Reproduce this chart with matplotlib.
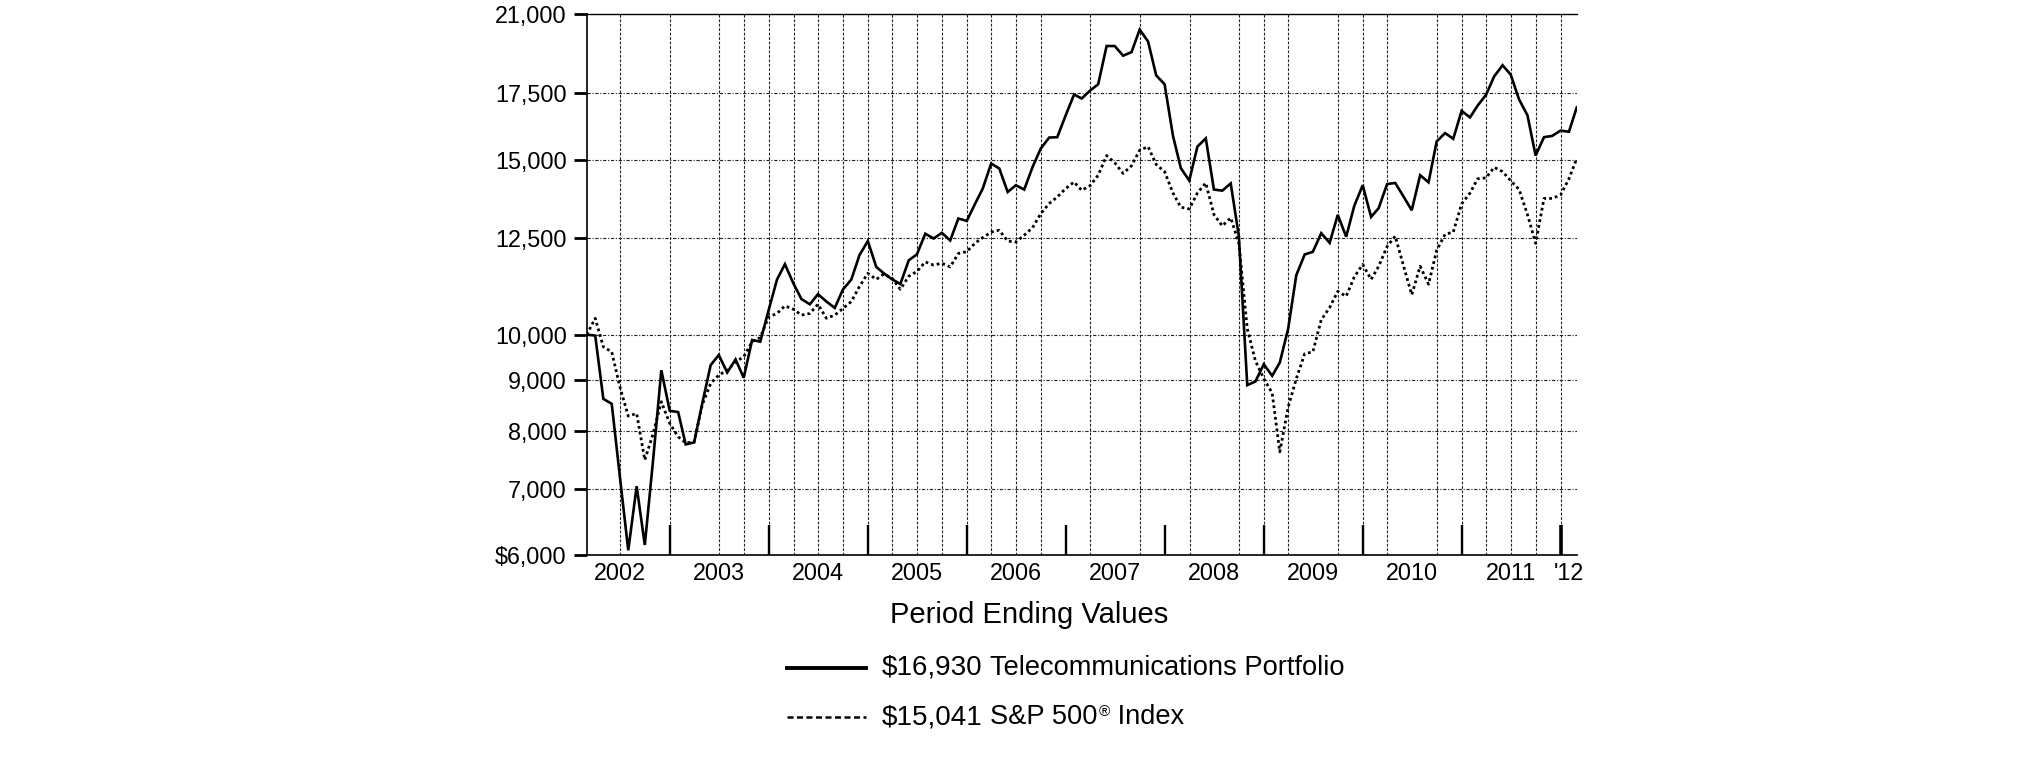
#Growth of a hypothetical $10,000 investment: Telecommunications Portfolio vs the S&P 500

import matplotlib
#No display here, just write the png
matplotlib.use('Agg')

import pandas as pd
import matplotlib.pyplot as plt
import matplotlib.ticker as mticker
from matplotlib.lines import Line2D

# Month end values, Feb 2002 through Feb 2012 (121 months)
firstMonthEnd = '2002-02-28'

telecomValues = [
    10000, 9980, 8620, 8520, 7200, 6070, 7040, 6145, 7500, 9210,
    8384, 8360, 7757, 7793, 8530, 9320, 9541, 9163, 9443, 9050,
    9878, 9840, 10586, 11366, 11774, 11265, 10860, 10730, 10984, 10800,
    10640, 11103, 11362, 12021, 12422, 11700, 11527, 11366, 11246, 11880,
    12044, 12634, 12495, 12660, 12440, 13088, 13014, 13547, 14027, 14864,
    14694, 13917, 14135, 13995, 14750, 15386, 15785, 15800, 16620, 17440,
    17280, 17600, 17860, 19513, 19513, 19080, 19240, 20270, 19720, 18230,
    17860, 15846, 14706, 14290, 15457, 15755, 13995, 13960, 14195, 12564,
    8898, 8973, 9337, 9092, 9374, 10140, 11480, 12042, 12116, 12650,
    12370, 13200, 12547, 13479, 14135, 13136, 13406, 14174, 14210, 13766,
    13340, 14468, 14232, 15646, 15950, 15740, 16790, 16540, 16996, 17426,
    18186, 18664, 18265, 17242, 16620, 15140, 15800, 15846, 16041, 16000,
    16930]

spValues = [
    10000, 10388, 9723, 9611, 8864, 8282, 8333, 7481, 7958, 8562,
    8143, 7895, 7785, 7800, 8500, 8934, 9107, 9210, 9392, 9501,
    9840, 9937, 10419, 10505, 10690, 10610, 10464, 10505, 10730, 10388,
    10464, 10624, 10798, 11180, 11527, 11366, 11509, 11393, 11108, 11450,
    11576, 11836, 11750, 11800, 11700, 12070, 12120, 12364, 12521, 12683,
    12735, 12422, 12393, 12591, 12815, 13238, 13547, 13758, 14027, 14242,
    13970, 14120, 14468, 15140, 14892, 14528, 14788, 15328, 15457, 14830,
    14588, 13883, 13432, 13380, 13883, 14210, 13207, 12865, 13108, 12358,
    10140, 9413, 9032, 8737, 7624, 8455, 9032, 9569, 9610, 10350,
    10649, 11056, 10930, 11432, 11765, 11366, 11717, 12266, 12564, 11717,
    10970, 11717, 11241, 12159, 12620, 12680, 13538, 13883, 14348, 14380,
    14735, 14588, 14290, 13995, 13207, 12358, 13710, 13710, 13821, 14348,
    15041]

legendNames = ['Telecommunications Portfolio', 'S&P 500', ' Index']
endingValues = ['$16,930', '$15,041']

yTickValues = [6000, 7000, 8000, 9000, 10000, 12500, 15000, 17500, 21000]
yTickLabels = ['$6,000', '7,000', '8,000', '9,000', '10,000', '12,500', '15,000', '17,500', '21,000']

yearLabels = ['2002', '2003', '2004', '2005', '2006', '2007', '2008', '2009', '2010', '2011', "'12"]
yearLabelDates = ['2002-07-01', '2003-07-01', '2004-07-01', '2005-07-01', '2006-07-01', '2007-07-01',
                  '2008-07-01', '2009-07-01', '2010-07-01', '2011-07-01', '2012-02-01']
yearTickDates = ['2003-01-01', '2004-01-01', '2005-01-01', '2006-01-01', '2007-01-01',
                 '2008-01-01', '2009-01-01', '2010-01-01', '2011-01-01', '2012-01-01']

# vertical dotted grid, only the ones showing in the original
gridDates = ['2002-07-01', '2003-01-01', '2003-07-01', '2003-10-01',
             '2004-01-01', '2004-04-01', '2004-07-01', '2004-10-01',
             '2005-01-01', '2005-04-01', '2005-07-01', '2005-10-01',
             '2006-01-01', '2006-04-01', '2006-07-01', '2006-10-01',
             '2007-04-01', '2007-10-01', '2008-04-01', '2008-10-01',
             '2009-01-01', '2009-04-01', '2009-10-01',
             '2010-01-01', '2010-04-01', '2010-10-01',
             '2011-01-01', '2011-04-01', '2011-07-01', '2011-10-01', '2012-01-01']

W, H = 2025, 761


def figPos(x, y):
    """pixel position in the picture -> figure fraction"""
    return x / W, 1 - y / H


def drawChart(fig):
    dates = pd.date_range(firstMonthEnd, periods=len(telecomValues), freq='ME')

    left, top = figPos(586.8, 555.3)
    ax = fig.add_axes([left, top, 990 / W, 541 / H])

    ax.plot(dates, telecomValues, color='black', lw=1.9, solid_joinstyle='miter', zorder=3)
    ax.plot(dates, spValues, color='black', lw=2.0, linestyle=(0, (1, 1.1)), zorder=3)

    ax.set_yscale('log')
    ax.set_ylim(6000, 21000)
    ax.set_xlim(dates[0], dates[-1])

    ax.yaxis.set_major_locator(mticker.FixedLocator(yTickValues))
    ax.yaxis.set_major_formatter(mticker.FixedFormatter(yTickLabels))
    ax.yaxis.set_minor_locator(mticker.NullLocator())
    ax.tick_params(axis='y', which='major', direction='out', length=9.5, width=2,
                   pad=5, labelsize=16.8)

    # horizontal grid, skip the two that sit on the spines
    for v in yTickValues[1:-1]:
        ax.axhline(v, color='#222222', lw=0.8, linestyle=(0, (3, 1.5, 1, 1.5)), zorder=1)

    # vertical grid
    ax.vlines(pd.to_datetime(gridDates), 6000, 21000, color='#222222', lw=0.8,
              linestyle=(0, (2.5, 1.5)), zorder=1)

    # year boundary ticks go inside, year names sit on minor ticks mid year
    ax.xaxis.set_major_locator(mticker.FixedLocator(matplotlib.dates.date2num(pd.to_datetime(yearTickDates))))
    ax.xaxis.set_major_formatter(mticker.NullFormatter())
    ax.xaxis.set_minor_locator(mticker.FixedLocator(matplotlib.dates.date2num(pd.to_datetime(yearLabelDates))))
    ax.xaxis.set_minor_formatter(mticker.FixedFormatter(yearLabels))
    ax.tick_params(axis='x', which='major', direction='in', length=21.5, width=1.7)
    ax.tick_params(axis='x', which='minor', length=0, pad=5, labelsize=16.8)
    ax.xaxis.get_major_ticks()[-1].tick1line.set_markeredgewidth(2.6)

    ax.spines['right'].set_visible(False)
    ax.spines['left'].set_linewidth(1.2)
    ax.spines['bottom'].set_linewidth(1.2)
    ax.spines['top'].set_linewidth(1.0)
    return ax


def drawLegend(fig):
    x, y = figPos(1029, 615)
    fig.text(x, y, 'Period Ending Values', ha='center', va='center', fontsize=21)

    rowY = [668, 717]
    styles = [dict(lw=2.8, linestyle='-'), dict(lw=1.8, linestyle=(0, (2.4, 1.4)))]
    for n in range(2):
        x0, yy = figPos(787, rowY[n])
        x1, _ = figPos(866, rowY[n])
        fig.add_artist(Line2D([x0, x1], [yy, yy], color='black',
                              transform=fig.transFigure, **styles[n]))
        vx, _ = figPos(882, rowY[n])
        fig.text(vx, yy, endingValues[n], ha='left', va='center', fontsize=20)

    # Telecom name
    nx, ny = figPos(990, rowY[0])
    fig.text(nx, ny, legendNames[0], ha='left', va='center', fontsize=19.6)

    # S&P 500 with a small raised registered mark
    nx, ny = figPos(990, rowY[1])
    t = fig.text(nx, ny, legendNames[1], ha='left', va='center', fontsize=19.6)
    renderer = fig.canvas.get_renderer()
    ext = t.get_window_extent(renderer)
    rx = (ext.x1 + 1) / W
    r = fig.text(rx, ny + 5 / H, '\u00ae', ha='left', va='center', fontsize=11)
    ext2 = r.get_window_extent(renderer)
    fig.text(ext2.x1 / W, ny, legendNames[2], ha='left', va='center', fontsize=19.6)


def main():
    plt.rcParams['font.family'] = ['Liberation Sans', 'DejaVu Sans']
    fig = plt.figure(figsize=(W / 100, H / 100), dpi=100)
    fig.patch.set_facecolor('white')
    drawChart(fig)
    drawLegend(fig)
    fig.savefig('out.png', dpi=100)


main()
